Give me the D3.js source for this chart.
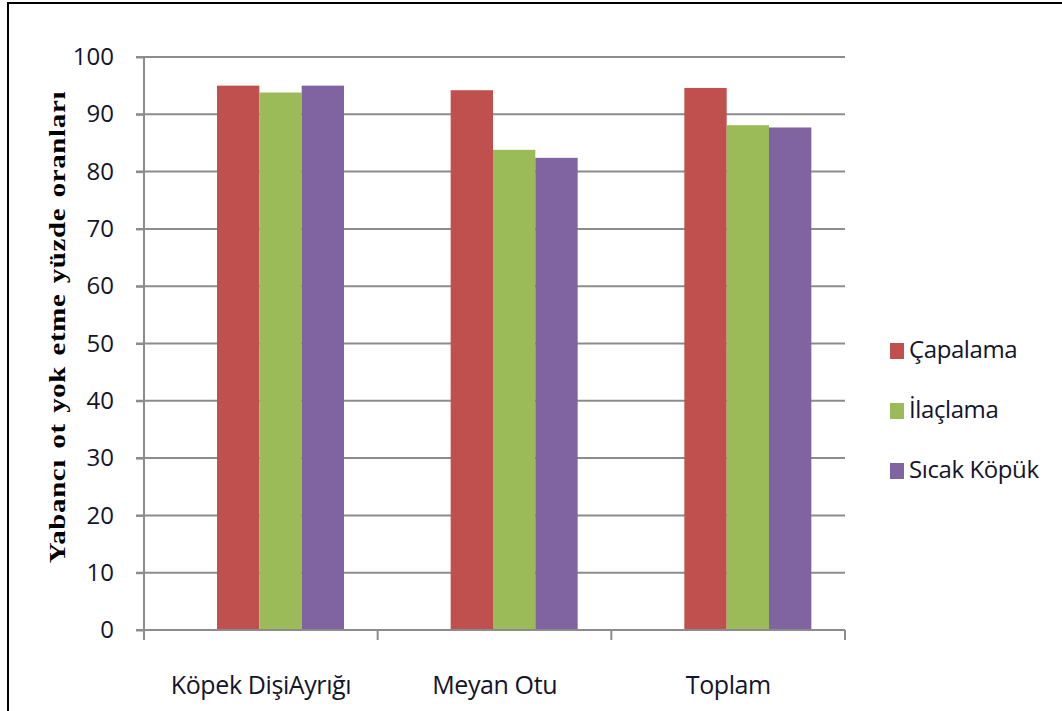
<!DOCTYPE html>
<html>
<head>
<meta charset="utf-8">
<script src="https://cdn.jsdelivr.net/npm/d3@7"></script>
<style>
  body { margin: 0; background: #fff; }
  svg text { font-family: "Open Sans", "Liberation Sans", sans-serif; }
</style>
</head>
<body>
<div id="chart"></div>
<script>
const categories = ["Köpek DişiAyrığı", "Meyan Otu", "Toplam"];
const seriesNames = ["Çapalama", "İlaçlama", "Sıcak Köpük"];
const capalama = [95.0, 94.2, 94.6];
const ilaclama = [93.8, 83.8, 88.1];
const sicakKopuk = [95.0, 82.4, 87.7];
const yTicks = [0, 10, 20, 30, 40, 50, 60, 70, 80, 90, 100];
const colors = ["#C0504D", "#9BBB59", "#8064A2"];

const seriesValues = [capalama, ilaclama, sicakKopuk];

const W = 1062, H = 711;
const plotLeft = 144, plotRight = 845, plotTop = 57, plotBottom = 630;

const svg = d3.select('#chart').append('svg')
    .attr('width', W)
    .attr('height', H);

// çerçeve (sadece üst ve sol)
svg.append('path')
    .attr('d', `M8,${H} L8,3 L${W},3`)
    .attr('fill', 'none')
    .attr('stroke', '#000')
    .attr('stroke-width', 2);

const y = d3.scaleLinear().domain([0, 100]).range([plotBottom, plotTop]);
const x0 = d3.scaleBand().domain(categories).range([plotLeft, plotRight]).padding(0);
const x1 = d3.scaleBand().domain(seriesNames).range([73, 200]).padding(0);

// grid çizgileri
svg.append('g')
    .selectAll('line')
    .data(yTicks.filter(d => d > 0))
    .enter()
    .append('line')
    .attr('x1', plotLeft - 8)
    .attr('x2', plotRight)
    .attr('y1', d => y(d))
    .attr('y2', d => y(d))
    .attr('stroke', '#8c8c8c')
    .attr('stroke-width', 2);

// barlar
const groups = svg.append('g')
    .selectAll('g')
    .data(categories)
    .enter()
    .append('g')
    .attr('transform', d => `translate(${x0(d)},0)`);

groups.selectAll('rect')
    .data((c, i) => seriesNames.map((s, j) => ({ s, v: seriesValues[j][i], j })))
    .enter()
    .append('rect')
    .attr('x', d => x1(d.s))
    .attr('width', x1.bandwidth())
    .attr('y', d => y(d.v))
    .attr('height', d => y(0) - y(d.v))
    .attr('fill', d => colors[d.j]);

// y ekseni
const yAxis = svg.append('g')
    .attr('transform', `translate(${plotLeft},0)`)
    .call(d3.axisLeft(y).tickValues(yTicks).tickSize(8).tickPadding(22));
yAxis.select('.domain').attr('stroke', '#8c8c8c').attr('stroke-width', 2)
    .attr('d', `M0,${plotTop}V${plotBottom}`);
yAxis.selectAll('.tick line').attr('stroke', '#8c8c8c').attr('stroke-width', 2);
yAxis.selectAll('.tick text')
    .attr('font-size', 24)
    .attr('fill', '#14142a')
    .style('font-family', '"Open Sans", sans-serif');

// x ekseni
const xAxis = svg.append('g')
    .attr('transform', `translate(0,${plotBottom})`);
xAxis.append('line')
    .attr('x1', plotLeft - 8).attr('x2', plotRight)
    .attr('y1', 0).attr('y2', 0)
    .attr('stroke', '#8c8c8c').attr('stroke-width', 2);
xAxis.selectAll('.xtick')
    .data(d3.range(categories.length + 1))
    .enter()
    .append('line')
    .attr('x1', i => plotLeft + i * x0.bandwidth())
    .attr('x2', i => plotLeft + i * x0.bandwidth())
    .attr('y1', 0).attr('y2', 10)
    .attr('stroke', '#8c8c8c').attr('stroke-width', 2);
xAxis.selectAll('.xlabel')
    .data(categories)
    .enter()
    .append('text')
    .attr('x', d => x0(d) + 117)
    .attr('y', 64)
    .attr('text-anchor', 'middle')
    .attr('font-size', 25)
    .attr('letter-spacing', -0.4)
    .attr('fill', '#14142a')
    .text(d => d);

// y ekseni başlığı (dikey yönde biraz uzatılmış)
svg.append('text')
    .attr('transform', `translate(65,327) rotate(-90) scale(1.2,1)`)
    .attr('text-anchor', 'middle')
    .style('font-family', '"Liberation Serif", "DejaVu Serif", serif')
    .attr('font-weight', 'bold')
    .attr('font-size', 24)
    .attr('letter-spacing', 0.6)
    .attr('word-spacing', 2)
    .attr('fill', '#000')
    .text('Yabancı ot yok etme yüzde oranları');

// lejant
const legend = svg.append('g')
    .selectAll('g')
    .data(seriesNames)
    .enter()
    .append('g')
    .attr('transform', (d, i) => `translate(890,${358 + i * 60})`);
legend.append('rect')
    .attr('x', 0).attr('y', -15)
    .attr('width', 14).attr('height', 16)
    .attr('fill', (d, i) => colors[i]);
legend.append('text')
    .attr('x', 19).attr('y', 0)
    .attr('font-size', 24)
    .attr('letter-spacing', -0.4)
    .attr('fill', '#14142a')
    .text(d => d);
</script>
</body>
</html>
